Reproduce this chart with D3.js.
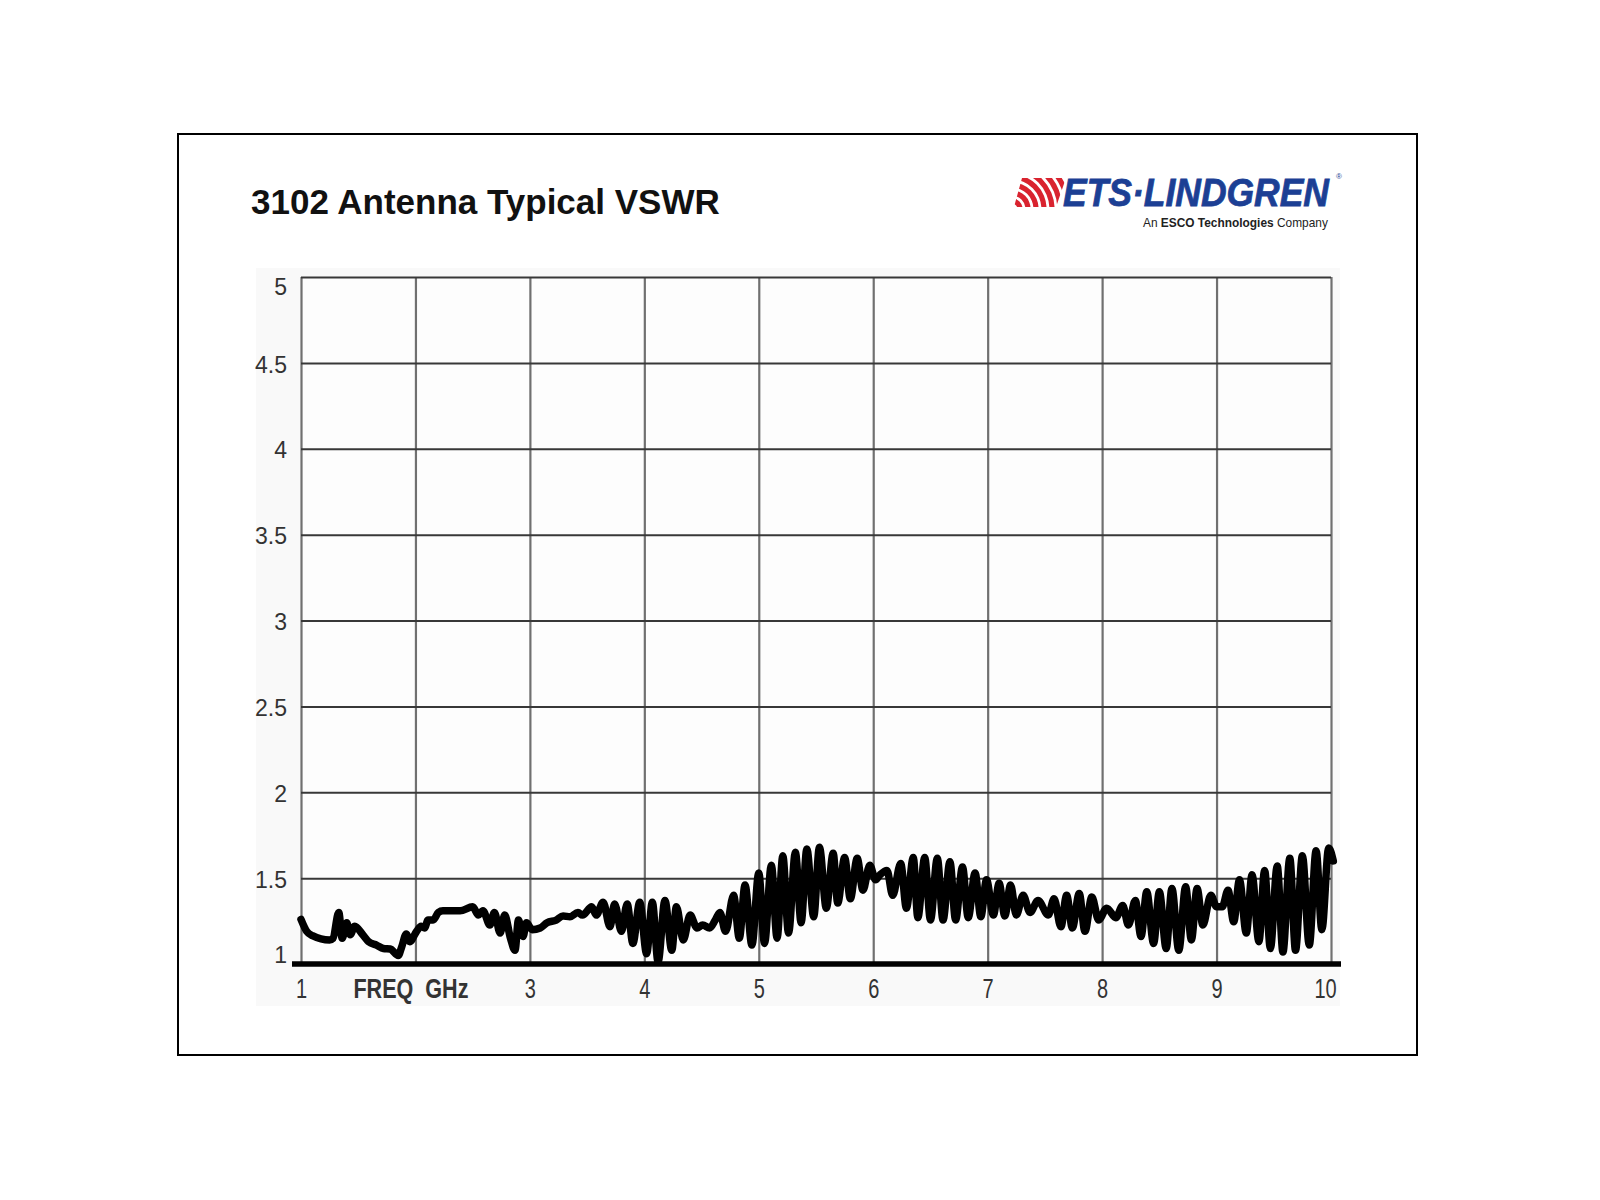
<!DOCTYPE html>
<html>
<head>
<meta charset="utf-8">
<script src="https://cdn.jsdelivr.net/npm/d3@7"></script>
<style>
  html, body { margin: 0; padding: 0; background: #ffffff; }
  svg { display: block; }
</style>
</head>
<body>
<script>
// ---------- DATA ----------
const titleText = "3102 Antenna Typical VSWR";
const xTickValues = [1, 2, 3, 4, 5, 6, 7, 8, 9, 10];
const xTickLabels = ["1", "FREQ  GHz", "3", "4", "5", "6", "7", "8", "9", "10"];
const yTickValues = [1, 1.5, 2, 2.5, 3, 3.5, 4, 4.5, 5];
const yTickLabels = ["1", "1.5", "2", "2.5", "3", "3.5", "4", "4.5", "5"];

const freqGHz = [
  1.00, 1.05, 1.10, 1.25, 1.28, 1.33, 1.36, 1.40, 1.43, 1.47, 1.54, 1.59, 1.66, 1.72, 1.78, 1.85, 1.88, 1.92, 1.95,
  2.01, 2.05, 2.08, 2.11, 2.155, 2.20, 2.24, 2.39, 2.50, 2.55, 2.59, 2.65, 2.69, 2.74, 2.78, 2.83, 2.87, 2.90, 2.94, 2.97,
  3.02, 3.09, 3.15, 3.23, 3.29, 3.35, 3.42, 3.46, 3.54, 3.58, 3.64, 3.70, 3.74, 3.80, 3.85, 3.90, 3.96,
  4.02, 4.07, 4.12, 4.18, 4.24, 4.28, 4.34, 4.40, 4.46, 4.51, 4.57, 4.62, 4.66, 4.71, 4.78, 4.83, 4.88, 4.94,
  5.00, 5.05, 5.11, 5.16, 5.21, 5.26, 5.32, 5.37, 5.42, 5.48, 5.53, 5.59, 5.65, 5.69, 5.75, 5.80, 5.86, 5.91, 5.97,
  6.02, 6.06, 6.12, 6.17, 6.24, 6.29, 6.35, 6.39, 6.45, 6.50, 6.56, 6.61, 6.67, 6.72, 6.78, 6.83, 6.89, 6.94, 6.99,
  7.05, 7.10, 7.15, 7.20, 7.25, 7.31, 7.37, 7.44, 7.53, 7.58, 7.64, 7.69, 7.74, 7.80, 7.85, 7.91, 7.97,
  8.04, 8.12, 8.18, 8.23, 8.29, 8.34, 8.39, 8.45, 8.50, 8.56, 8.61, 8.67, 8.73, 8.78, 8.83, 8.88, 8.95,
  9.00, 9.05, 9.10, 9.15, 9.20, 9.26, 9.31, 9.37, 9.42, 9.47, 9.53, 9.58, 9.64, 9.69, 9.75, 9.81, 9.87, 9.92, 9.98, 10.02
];
const vswr = [
  1.26, 1.19, 1.165, 1.14, 1.15, 1.30, 1.15, 1.24, 1.17, 1.22, 1.17, 1.13, 1.11, 1.09, 1.087, 1.05, 1.10, 1.175, 1.13,
  1.19, 1.22, 1.21, 1.256, 1.256, 1.30, 1.31, 1.31, 1.333, 1.285, 1.31, 1.227, 1.30, 1.18, 1.285, 1.15, 1.08, 1.256, 1.16, 1.24,
  1.20, 1.21, 1.24, 1.256, 1.28, 1.275, 1.30, 1.285, 1.333, 1.285, 1.36, 1.217, 1.35, 1.19, 1.35, 1.12, 1.36,
  1.06, 1.36, 1.013, 1.37, 1.08, 1.333, 1.14, 1.285, 1.21, 1.227, 1.21, 1.256, 1.30, 1.19, 1.40, 1.15, 1.46, 1.11,
  1.53, 1.12, 1.575, 1.15, 1.63, 1.18, 1.65, 1.24, 1.67, 1.275, 1.68, 1.325, 1.645, 1.355, 1.62, 1.38, 1.615, 1.43, 1.575,
  1.49, 1.52, 1.545, 1.40, 1.585, 1.325, 1.62, 1.27, 1.62, 1.256, 1.615, 1.256, 1.595, 1.256, 1.565, 1.27, 1.53, 1.275, 1.49,
  1.285, 1.47, 1.28, 1.46, 1.285, 1.40, 1.30, 1.37, 1.285, 1.38, 1.217, 1.40, 1.21, 1.41, 1.19, 1.39, 1.256,
  1.325, 1.27, 1.34, 1.227, 1.37, 1.16, 1.42, 1.12, 1.42, 1.09, 1.44, 1.08, 1.45, 1.14, 1.44, 1.227, 1.40,
  1.333, 1.333, 1.43, 1.246, 1.49, 1.18, 1.52, 1.13, 1.545, 1.09, 1.57, 1.07, 1.615, 1.08, 1.63, 1.11, 1.66, 1.20, 1.675, 1.60
];

// ---------- LAYOUT ----------
const W = 1600, H = 1200;
const svg = d3.select("body").append("svg").attr("width", W).attr("height", H);

// outer frame
svg.append("rect").attr("x", 178).attr("y", 134).attr("width", 1239).attr("height", 921)
  .attr("fill", "#ffffff").attr("stroke", "#000").attr("stroke-width", 2);

// title
svg.append("text").attr("x", 251).attr("y", 214)
  .attr("font-family", "Liberation Sans, Arial, sans-serif").attr("font-weight", "bold")
  .attr("font-size", 35).attr("fill", "#111").text(titleText);

// ---------- LOGO ----------
const logo = svg.append("g");
const defs = svg.append("defs");
defs.append("clipPath").attr("id", "iconClip").append("polygon")
  .attr("points", "1014,207 1056,207 1066,178 1022,178");
const iconG = logo.append("g").attr("clip-path", "url(#iconClip)");
[8, 16, 24, 32, 40, 48, 56].forEach(r => {
  iconG.append("path")
    .attr("d", d3.arc()({innerRadius: r - 2.6, outerRadius: r + 2.6, startAngle: 0, endAngle: Math.PI / 2}))
    .attr("transform", "translate(1012,209)")
    .attr("fill", "#d9232f");
});
// main wordmark, compressed horizontally with a transform so its box stays tight
const wordG = logo.append("g");
const word = wordG.append("text").attr("x", 0).attr("y", 0)
  .attr("font-family", "Liberation Sans, Arial, sans-serif")
  .attr("font-weight", "bold").attr("font-style", "italic").attr("font-size", 38)
  .attr("fill", "#1c3f94").attr("stroke", "#1c3f94").attr("stroke-width", 0.8)
  .text("ETS\u00B7LINDGREN");
const natW = word.node().getComputedTextLength();
wordG.attr("transform", `translate(1063,206) scale(${266 / natW},1)`);
logo.append("text").attr("x", 1336).attr("y", 179)
  .attr("font-family", "Liberation Sans, Arial, sans-serif").attr("font-size", 8)
  .attr("fill", "#1c3f94").text("\u00AE");
const subG = logo.append("g");
const sub = subG.append("text").attr("x", 0).attr("y", 0)
  .attr("font-family", "Liberation Sans, Arial, sans-serif")
  .attr("font-size", 13).attr("fill", "#222");
sub.append("tspan").text("An ");
sub.append("tspan").attr("font-weight", "bold").text("ESCO Technologies");
sub.append("tspan").text(" Company");
const subW = sub.node().getComputedTextLength();
subG.attr("transform", `translate(1143,227) scale(${185 / subW},1)`);

// ---------- CHART ----------
const x0 = 301, x1 = 1331, yTop = 277, yBot = 964;
const x = d3.scaleLinear().domain([1, 10]).range([x0, x1]);
const y = d3.scaleLinear().domain([1, 5]).range([yBot, yTop]);

// light image background
svg.append("rect").attr("x", 256).attr("y", 268).attr("width", 1084).attr("height", 738).attr("fill", "#f9f9f9");
svg.append("rect").attr("x", x0).attr("y", yTop).attr("width", x1 - x0).attr("height", yBot - yTop).attr("fill", "#fdfdfd");

// vertical grid
const vGrid = svg.append("g").attr("transform", `translate(0,${yBot})`)
  .call(d3.axisBottom(x).tickValues(xTickValues).tickSize(-(yBot - yTop)).tickFormat(""));
vGrid.select(".domain").remove();
vGrid.selectAll("line").attr("stroke", "#707070").attr("stroke-width", 2.2);

// horizontal grid
const hGrid = svg.append("g").attr("transform", `translate(${x0},0)`)
  .call(d3.axisLeft(y).tickValues(yTickValues.slice(1)).tickSize(-(x1 - x0)).tickFormat(""));
hGrid.select(".domain").remove();
hGrid.selectAll("line").attr("stroke", "#383838").attr("stroke-width", 2);

// y labels
const yAxis = svg.append("g").attr("transform", `translate(${x0},0)`)
  .call(d3.axisLeft(y).tickValues(yTickValues).tickSize(0).tickPadding(14)
    .tickFormat((d, i) => yTickLabels[i]));
yAxis.select(".domain").remove();
yAxis.selectAll("text")
  .attr("font-family", "Liberation Sans, Arial, sans-serif").attr("font-size", 23)
  .attr("fill", "#333")
  .attr("dy", d => d === 5 ? "0.78em" : (d === 1 ? "-0.05em" : "0.40em"));

// x labels (condensed look)
const xAxis = svg.append("g").attr("transform", `translate(0,${yBot})`)
  .call(d3.axisBottom(x).tickValues(xTickValues).tickSize(0)
    .tickFormat((d, i) => xTickLabels[i]));
xAxis.select(".domain").remove();
xAxis.selectAll("text")
  .attr("font-family", "Liberation Sans, Arial, sans-serif")
  .attr("font-size", 27).attr("fill", "#333")
  .attr("y", 24).attr("dy", "0.36em")
  .attr("font-weight", d => d === 2 ? "bold" : "normal")
  .attr("dx", d => d === 10 ? -6 : (d === 2 ? -5 : 0))
  .style("white-space", "pre")
  .each(function(d) {
    const len = this.getComputedTextLength();
    const target = d === 2 ? 115 : len * 0.74;
    d3.select(this).attr("textLength", target).attr("lengthAdjust", "spacingAndGlyphs");
  });

// thick baseline
svg.append("line").attr("x1", 292).attr("x2", 1341).attr("y1", yBot).attr("y2", yBot)
  .attr("stroke", "#000").attr("stroke-width", 5.5);

// data curve
const pts = freqGHz.map((f, i) => [f, vswr[i]]);
svg.append("path").datum(pts)
  .attr("d", d3.line().x(d => x(d[0])).y(d => y(d[1])).curve(d3.curveMonotoneX))
  .attr("fill", "none").attr("stroke", "#000").attr("stroke-width", 7.5)
  .attr("stroke-linejoin", "round").attr("stroke-linecap", "round");
</script>
</body>
</html>
